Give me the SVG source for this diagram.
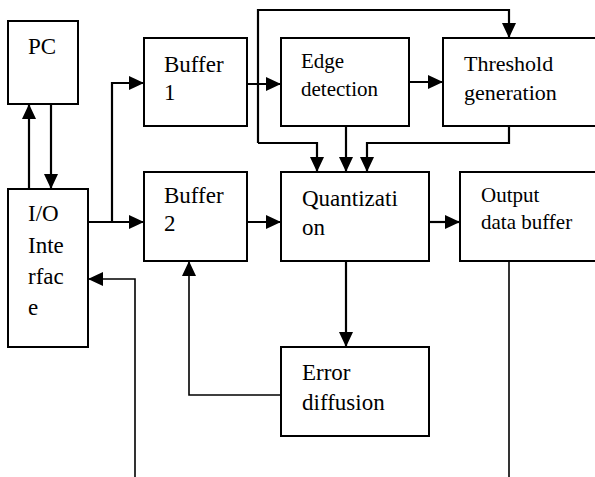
<svg xmlns="http://www.w3.org/2000/svg" width="595" height="477" viewBox="0 0 595 477">
<style>
.box{fill:#fff;stroke:#000;stroke-width:2}
.t{font-family:"Liberation Serif","Times New Roman",serif;font-size:23px;fill:#000}
.s21{font-size:21px}
.s22{font-size:22px}
.c{fill:none;stroke:#000;stroke-width:2.2}
.thin{fill:none;stroke:#000;stroke-width:1.6}
</style>
<defs>
<marker id="ah" markerUnits="userSpaceOnUse" markerWidth="16" markerHeight="14" refX="15" refY="7" orient="auto">
<path d="M0,0 L15,7 L0,14 z" fill="#000"/>
</marker>
</defs>
<rect width="595" height="477" fill="#fff"/>
<g id="connectors">
<line class="c" x1="29" y1="189" x2="29" y2="104" marker-end="url(#ah)"/>
<line class="c" x1="51" y1="104" x2="51" y2="189" marker-end="url(#ah)"/>
<line class="c" x1="88" y1="222" x2="144" y2="222" marker-end="url(#ah)"/>
<path class="c" d="M112,222 V83 H144" marker-end="url(#ah)"/>
<line class="c" x1="247" y1="84" x2="281" y2="84" marker-end="url(#ah)"/>
<line class="c" x1="409" y1="82" x2="443" y2="82" marker-end="url(#ah)"/>
<path class="c" d="M258,143 V10 H509 V38" marker-end="url(#ah)"/>
<path class="c" d="M258,143 H317 V172" marker-end="url(#ah)"/>
<line class="c" x1="346" y1="126" x2="346" y2="172" marker-end="url(#ah)"/>
<path class="c" d="M509,126 V143 H367 V172" marker-end="url(#ah)"/>
<line class="c" x1="247" y1="222" x2="281" y2="222" marker-end="url(#ah)"/>
<line class="c" x1="429" y1="222" x2="460" y2="222" marker-end="url(#ah)"/>
<line class="c" x1="346" y1="261" x2="346" y2="347" marker-end="url(#ah)"/>
<path class="thin" d="M281,395 H189 V261" marker-end="url(#ah)"/>
<path class="thin" d="M509,261 V477"/>
<path class="thin" d="M135,477 V279 H88" marker-end="url(#ah)"/>
</g>
<g id="pc"><rect class="box" x="8" y="21" width="70" height="83"/><text class="t" x="28" y="54">PC</text></g>
<g id="io"><rect class="box" x="8" y="189" width="80" height="158"/>
<text class="t" x="28" y="221">I/O</text><text class="t" x="28" y="253">Inte</text><text class="t" x="28" y="284">rfac</text><text class="t" x="28" y="315">e</text></g>
<g id="buffer1"><rect class="box" x="144" y="38" width="103" height="88"/><text class="t" x="164" y="72">Buffer</text><text class="t" x="164" y="100">1</text></g>
<g id="buffer2"><rect class="box" x="144" y="172" width="103" height="89"/><text class="t" x="164" y="203">Buffer</text><text class="t" x="164" y="231">2</text></g>
<g id="edge"><rect class="box" x="281" y="38" width="128" height="88"/><text class="t s21" x="301" y="68">Edge</text><text class="t s21" x="301" y="96">detection</text></g>
<g id="threshold"><rect class="box" x="443" y="38" width="160" height="88"/><text class="t s22" x="464" y="71">Threshold</text><text class="t s22" x="464" y="100">generation</text></g>
<g id="quant"><rect class="box" x="281" y="172" width="148" height="89"/><text class="t" x="302" y="206">Quantizati</text><text class="t" x="302" y="235">on</text></g>
<g id="output"><rect class="box" x="460" y="172" width="143" height="89"/><text class="t s21" x="481" y="202">Output</text><text class="t s21" x="481" y="229">data buffer</text></g>
<g id="error"><rect class="box" x="281" y="347" width="148" height="89"/><text class="t" x="302" y="380">Error</text><text class="t" x="302" y="410">diffusion</text></g>
</svg>
